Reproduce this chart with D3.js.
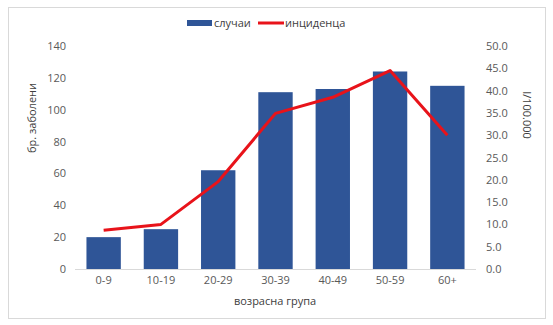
<!DOCTYPE html>
<html><head><meta charset="utf-8">
<script src="https://cdn.jsdelivr.net/npm/d3@7"></script>
<style>body{margin:0;background:#fff;} text{font-family:"Open Sans","Liberation Sans",sans-serif;}</style>
</head><body>
<svg id="c" width="553" height="325"></svg>
<script>
const categories = ["0-9","10-19","20-29","30-39","40-49","50-59","60+"];
const cases = [20,25,62,111,113,124,115];
const incidence = [8.7,10.0,19.6,34.9,38.5,44.5,30.0];
const leftTicks = [0,20,40,60,80,100,120,140];
const rightTicks = [0,5,10,15,20,25,30,35,40,45,50];

const svg = d3.select("#c");
svg.append("rect").attr("x",8.5).attr("y",7.5).attr("width",537).attr("height",311)
  .attr("fill","#fff").attr("stroke","#d9d9d9");

const x = d3.scaleBand().domain(categories).range([75,476]).paddingInner(0.4).paddingOuter(0.2);
const yL = d3.scaleLinear().domain([0,140]).range([269,46]);
const yR = d3.scaleLinear().domain([0,50]).range([269,46]);

// baseline
svg.append("line").attr("x1",75).attr("x2",476).attr("y1",269.5).attr("y2",269.5).attr("stroke","#d9d9d9");

svg.selectAll(".bar").data(cases).join("rect")
  .attr("x",(d,i)=>x(categories[i])).attr("width",x.bandwidth())
  .attr("y",d=>yL(d)).attr("height",d=>yL(0)-yL(d)).attr("fill","#2F5597");

const line = d3.line().x((d,i)=>x(categories[i])+x.bandwidth()/2).y(d=>yR(d));
svg.append("path").datum(incidence).attr("d",line).attr("fill","none")
  .attr("stroke","#E8131A").attr("stroke-width",3).attr("stroke-linejoin","round");

const fs = 11, col = "#595959";
const gl = svg.append("g").attr("transform","translate(66,0)")
  .call(d3.axisLeft(yL).tickValues(leftTicks).tickSize(0).tickPadding(0));
const gr = svg.append("g").attr("transform","translate(486,0)")
  .call(d3.axisRight(yR).tickValues(rightTicks).tickSize(0).tickPadding(0).tickFormat(d3.format(".1f")));
const gx = svg.append("g").attr("transform","translate(0,276)")
  .call(d3.axisBottom(x).tickSize(0).tickPadding(0));
[gl,gr,gx].forEach(g=>{g.select(".domain").remove();
  g.selectAll("text").attr("fill",col).attr("font-size",fs).attr("font-family","'Open Sans','Liberation Sans',sans-serif");});

svg.append("text").attr("transform","translate(36,118) rotate(-90)").attr("text-anchor","middle")
  .attr("font-size",11).attr("fill","#404040").text("бр. заболени");
svg.append("text").attr("transform","translate(523,115) rotate(90)").attr("text-anchor","middle")
  .attr("font-size",11).attr("fill","#404040").text("I/100.000");
svg.append("text").attr("x",275).attr("y",305).attr("text-anchor","middle")
  .attr("font-size",11).attr("fill","#404040").text("возрасна група");

// legend
svg.append("rect").attr("x",187).attr("y",20).attr("width",25).attr("height",6).attr("fill","#2F5597");
svg.append("text").attr("x",214).attr("y",27).attr("font-size",11).attr("fill","#404040").text("случаи");
svg.append("line").attr("x1",258).attr("x2",284).attr("y1",23).attr("y2",23).attr("stroke","#E8131A").attr("stroke-width",3);
svg.append("text").attr("x",285).attr("y",27).attr("font-size",11).attr("fill","#404040").text("инциденца");
</script>
</body></html>
